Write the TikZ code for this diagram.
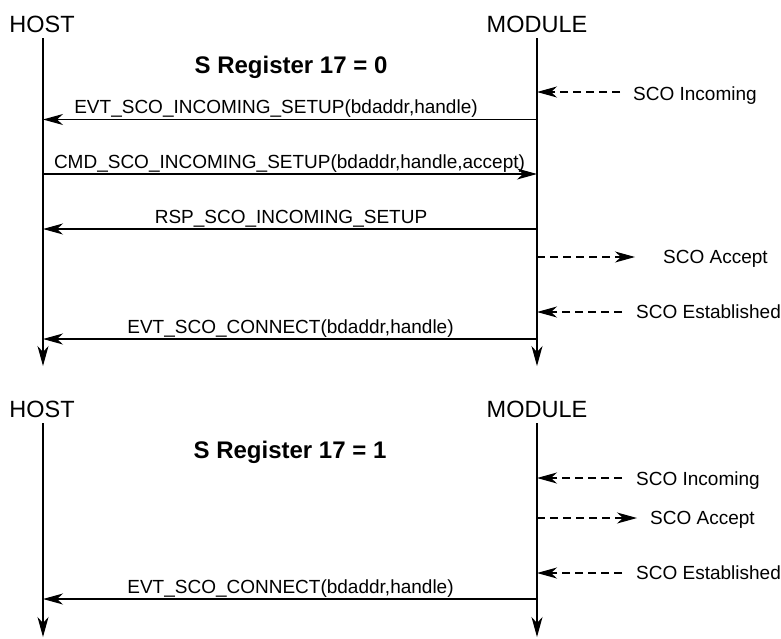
\documentclass[tikz,border=0pt]{standalone}
\usepackage{fontspec}
\setmainfont{Liberation Sans}
\usetikzlibrary{arrows.meta}
\begin{document}
\begin{tikzpicture}[x=1pt,y=-1pt,
  tip/.style={-{Stealth[length=20pt,width=11pt,inset=6pt]}},
  life/.style={line width=1.2pt,tip},
  msg/.style={line width=1.1pt,tip},
  evt/.style={line width=1.1pt,dash pattern=on 8pt off 5pt,tip},
  hdr/.style={anchor=base,inner sep=0pt,font=\fontsize{23.5}{26}\selectfont},
  ttl/.style={anchor=base,inner sep=0pt,font=\fontsize{24}{27}\selectfont\bfseries},
  lbl/.style={anchor=base,inner sep=0pt,font=\fontsize{19}{22}\selectfont},
  side/.style={anchor=base west,inner sep=0pt,font=\fontsize{19}{22}\selectfont}]
\useasboundingbox (0,0) rectangle (781,638);
% ---------- top section ----------
\node[hdr] (host1) at (42,32) {HOST};
\node[hdr] (mod1) at (537,32) {MODULE};
\node[ttl] (title1) at (291,73) {S Register 17 = 0};
\coordinate (h1t) at (43,38);
\coordinate (h1b) at (43,366);
\coordinate (m1t) at (537,38);
\coordinate (m1b) at (537,366);
\draw[life] (h1t) -- (h1b);
\draw[life] (m1t) -- (m1b);
% SCO Incoming
\coordinate (m1i) at (537,92);
\coordinate (e1i) at (620,92);
\draw[evt] (e1i) -- (m1i);
\node[side] (s1i) at (633,100) {SCO Incoming};
% EVT incoming setup
\coordinate (m1a) at (537,119.5);
\coordinate (h1a) at (43,119.5);
\draw[msg] (m1a) -- (h1a);
\node[lbl] (l1a) at (276,113) {EVT\_SCO\_INCOMING\_SETUP(bdaddr,handle)};
% CMD
\coordinate (h1c) at (43,174);
\coordinate (m1c) at (537,174);
\draw[msg] (h1c) -- (m1c);
\node[lbl] (l1c) at (289.5,168) {CMD\_SCO\_INCOMING\_SETUP(bdaddr,handle,accept)};
% RSP
\coordinate (m1r) at (537,229);
\coordinate (h1r) at (43,229);
\draw[msg] (m1r) -- (h1r);
\node[lbl] (l1r) at (291,223) {RSP\_SCO\_INCOMING\_SETUP};
% SCO Accept
\coordinate (m1p) at (537,257);
\coordinate (e1p) at (635,257);
\draw[evt] (m1p) -- (e1p);
\node[side] (s1p) at (663,263.5) {SCO Accept};
% SCO Established
\coordinate (m1e) at (537,312);
\coordinate (e1e) at (622,312);
\draw[evt] (e1e) -- (m1e);
\node[side] (s1e) at (636,318.5) {SCO Established};
% EVT connect
\coordinate (m1k) at (537,339);
\coordinate (h1k) at (43,339);
\draw[msg] (m1k) -- (h1k);
\node[lbl] (l1k) at (290.5,333) {EVT\_SCO\_CONNECT(bdaddr,handle)};
% ---------- bottom section ----------
\node[hdr] (host2) at (42,417) {HOST};
\node[hdr] (mod2) at (537,417) {MODULE};
\node[ttl] (title2) at (290,458) {S Register 17 = 1};
\coordinate (h2t) at (43,423);
\coordinate (h2b) at (43,637);
\coordinate (m2t) at (537,423);
\coordinate (m2b) at (537,637);
\draw[life] (h2t) -- (h2b);
\draw[life] (m2t) -- (m2b);
% SCO Incoming
\coordinate (m2i) at (537,478);
\coordinate (e2i) at (622,478);
\draw[evt] (e2i) -- (m2i);
\node[side] (s2i) at (636,485) {SCO Incoming};
% SCO Accept
\coordinate (m2p) at (537,518);
\coordinate (e2p) at (637,518);
\draw[evt] (m2p) -- (e2p);
\node[side] (s2p) at (650,524.5) {SCO Accept};
% SCO Established
\coordinate (m2e) at (537,573);
\coordinate (e2e) at (622,573);
\draw[evt] (e2e) -- (m2e);
\node[side] (s2e) at (636,579.5) {SCO Established};
% EVT connect
\coordinate (m2k) at (537,599);
\coordinate (h2k) at (43,599);
\draw[msg] (m2k) -- (h2k);
\node[lbl] (l2k) at (290.5,593) {EVT\_SCO\_CONNECT(bdaddr,handle)};
\end{tikzpicture}
\end{document}
